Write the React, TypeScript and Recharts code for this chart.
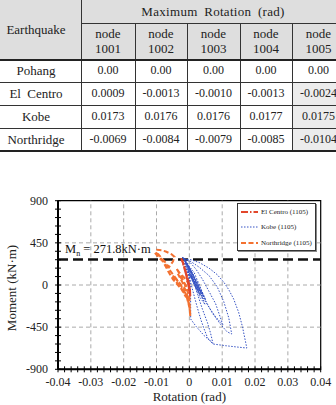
import React from 'react';
import { ComposedChart, Scatter, XAxis, YAxis, ReferenceLine, ReferenceArea } from 'recharts';

// ---------- Table data ----------
const earthquakes = ['Pohang', 'El Centro', 'Kobe', 'Northridge'];
const nodeNames = ['1001', '1002', '1003', '1004', '1005'];
const pohangRot = ['0.00', '0.00', '0.00', '0.00', '0.00'];
const elCentroRot = ['0.0009', '-0.0013', '-0.0010', '-0.0013', '-0.0024'];
const kobeMaxRot = ['0.0173', '0.0176', '0.0176', '0.0177', '0.0175'];
const northridgeRot = ['-0.0069', '-0.0084', '-0.0079', '-0.0085', '-0.0104'];
const tableRows = [pohangRot, elCentroRot, kobeMaxRot, northridgeRot];

// ---------- Chart data (rotation rad, moment kN·m) ----------
const kobeRot = [
  0, -0.0005, -0.0015, -0.0005, 0.001, 0.0025, 0.003, 0.0015, 0.0, -0.0018,
  -0.001, 0.001, 0.003, 0.0045, 0.004, 0.002, -0.0005, -0.002,
  0.0, 0.002, 0.004, 0.006, 0.008, 0.0102, 0.008, 0.006, 0.004, 0.002, 0.0, -0.0019,
  0.0005, 0.003, 0.006, 0.0085, 0.0105, 0.012, 0.0129, 0.0115, 0.0095, 0.007, 0.005, 0.003, 0.001, -0.002,
  0.0015, 0.0035, 0.005, 0.0035, 0.001, -0.0015,
  0.0, 0.003, 0.006, 0.0085, 0.0105, 0.012, 0.0135, 0.015, 0.0162, 0.0175,
  0.0145, 0.011, 0.0072, 0.0055, 0.0045, 0.0035, 0.0025, 0.0015, 0.0, -0.0015,
  -0.0005, 0.0003, 0.0004, 0.0004, 0.002, 0.0045, 0.0072, 0.0065, 0.0055, 0.004, 0.0025, 0.001, -0.001, -0.0022,
  0.0005, 0.0025, 0.004, 0.0025, 0.0005, 0.0015, 0.0035, 0.002, 0.0,
  0.001, 0.0028, 0.0042, 0.003, 0.0012, -0.0008, 0.0008, 0.0022, 0.0038, 0.0048,
  0.0032, 0.0018, 0.0002, -0.0012, 0.0006, 0.002, 0.0034, 0.0026, 0.001, 0.0,
];
const kobeMom = [
  0, 120, 240, 150, 40, -60, -90, 40, 170, 285,
  240, 120, 0, -130, -110, 40, 230, 295,
  250, 170, 60, -70, -200, -424, -340, -240, -120, 20, 180, 290,
  250, 190, 100, -20, -180, -350, -523, -500, -420, -300, -170, -30, 120, 290,
  130, -40, -160, -60, 110, 270,
  275, 240, 180, 110, 30, -50, -150, -290, -450, -673,
  -662, -648, -630, -560, -470, -370, -250, -120, 80, 260,
  200, 0, -200, -363, -440, -540, -625, -520, -400, -260, -100, 60, 250, 300,
  160, 0, -100, -20, 100, 30, -80, 0, 110,
  60, -50, -150, -90, 50, 230, 120, 10, -120, -210,
  -130, -20, 110, 250, 100, -10, -110, -60, 40, 120,
];

const northRot = [
  0, -0.001, -0.003, -0.004, -0.002, 0.0, 0.0003, 0.0001, -0.001, -0.003,
  -0.005, -0.0045, -0.0025, -0.001, -0.0025, -0.0045, -0.006, -0.0075, -0.009, -0.0103,
  -0.0098, -0.0085, -0.007, -0.0055, -0.0045, -0.005, -0.0062, -0.0075, -0.0095, -0.0105,
  -0.0095, -0.008, -0.0065, -0.005, -0.0035, -0.002, -0.0005, 0.0002, -0.0005, -0.002,
  -0.0035, -0.002, 0.0,
];
const northMom = [
  0, 60, 130, 180, 60, -120, -346, -250, -100, 20,
  100, 60, -40, -130, 0, 90, 160, 230, 300, 350,
  375, 372, 355, 330, 300, 250, 190, 250, 330, 345,
  300, 250, 150, 60, 0, -60, -150, -280, -120, 20,
  120, 50, -60,
];

const elcRot = [
  0, -0.0008, -0.0016, -0.0022, -0.0015, -0.0006, 0.0001, 0.0003, -0.0004, -0.0012,
  -0.002, -0.0025, -0.0017, -0.0008, 0.0, -0.0006, -0.0013, -0.0005, 0.0003, 0.0002,
];
const elcMom = [
  0, 110, 200, 270, 190, 70, -40, -120, 20, 140,
  240, 285, 200, 90, -10, 60, 150, 50, -130, -50,
];

const mnValue = 271.8;
const xMajor = [-0.04, -0.03, -0.02, -0.01, 0, 0.01, 0.02, 0.03, 0.04];
const yMajor = [-900, -450, 0, 450, 900];
const xTicksAll = Array.from({ length: 41 }, (_, i) => Math.round((-0.04 + i * 0.002) * 10000) / 10000);
const yTicksAll = Array.from({ length: 21 }, (_, i) => -900 + i * 90);

const zip = (r: number[], m: number[]) => r.map((x, i) => ({ x, y: m[i] }));
const kobe = zip(kobeRot, kobeMom);
const north = zip(northRot, northMom);
const elc = zip(elcRot, elcMom);

const SERIF = "'Liberation Serif', 'Times New Roman', serif";
const KOBE_C = '#3552c4';
const ELC_C = '#e2472b';
const NOR_C = '#f37130';

const isMajorX = (v: number) => xMajor.some((m) => Math.abs(m - v) < 1e-7);
const XTick = (props: any) => {
  const { x, y, payload } = props;
  const v = payload.value;
  const major = isMajorX(v);
  return (
    <g>
      <line x1={x} x2={x} y1={y - 3} y2={y + 3} stroke="#000" strokeWidth={1} />
      {major && (
        <text x={x} y={y + 17} textAnchor="middle" fontSize={12} fontFamily={SERIF} fill="#222">
          {v === 0 ? '0' : v.toFixed(2)}
        </text>
      )}
    </g>
  );
};
const YTick = (props: any) => {
  const { x, y, payload } = props;
  const v = payload.value;
  const major = yMajor.includes(v);
  return (
    <g>
      <line x1={x - 3} x2={x + 3} y1={y} y2={y} stroke="#000" strokeWidth={1} />
      {major && (
        <text x={x - 10} y={y + 4} textAnchor="end" fontSize={12} fontFamily={SERIF} fill="#222">
          {v}
        </text>
      )}
    </g>
  );
};

const MnLabel = (props: any) => {
  const vb = props.viewBox || {};
  return (
    <text x={vb.x + 7} y={vb.y - 7} fontSize={12.5} fontFamily={SERIF} fill="#111">
      <tspan>M</tspan>
      <tspan dy={3} fontSize={8}>n</tspan>
      <tspan dy={-3}>{' = ' + mnValue + 'kN·m'}</tspan>
    </text>
  );
};

const YTitle = (props: any) => {
  const vb = props.viewBox || {};
  const cy = vb.y + vb.height / 2 + 3;
  return (
    <text x={16} y={cy} transform={`rotate(-90, 16, ${cy})`} textAnchor="middle" fontSize={13} fontFamily={SERIF} fill="#222">
      Moment (kN·m)
    </text>
  );
};
const XTitle = (props: any) => {
  const vb = props.viewBox || {};
  return (
    <text x={vb.x + vb.width / 2} y={vb.y + 32} textAnchor="middle" fontSize={13} fontFamily={SERIF} fill="#222">
      Rotation (rad)
    </text>
  );
};

const NoShape = () => <g />;

const cols = [-9, 81, 135, 187, 240, 292, 345];
const rows = [0, 23, 59, 82, 105, 128, 151];

const Cell = ({ x1, x2, y1, y2, bg, children, style }: any) => (
  <div
    style={{
      position: 'absolute', left: x1, top: y1, width: x2 - x1, height: y2 - y1,
      background: bg, display: 'flex', flexDirection: 'column', alignItems: 'center', justifyContent: 'center',
      fontFamily: SERIF, fontSize: 13, color: '#222', lineHeight: '15px', textAlign: 'center', ...style,
    }}
  >
    {children}
  </div>
);

const HLine = ({ x1, x2, y, w = 1, c = '#333' }: any) => (
  <div style={{ position: 'absolute', left: x1, top: y, width: x2 - x1, height: w, background: c }} />
);
const VLine = ({ x, y1, y2, w = 1, c = '#333' }: any) => (
  <div style={{ position: 'absolute', left: x, top: y1, width: w, height: y2 - y1, background: c }} />
);

const Table = () => (
  <>
    <Cell x1={cols[0]} x2={cols[1]} y1={rows[0]} y2={rows[2]} bg="#dedede">Earthquake</Cell>
    <Cell x1={cols[1]} x2={cols[6]} y1={rows[0]} y2={rows[1]} bg="#dedede" style={{ wordSpacing: 3, letterSpacing: 0.3 }}>
      Maximum Rotation (rad)
    </Cell>
    {nodeNames.map((n, i) => (
      <Cell key={n} x1={cols[i + 1]} x2={cols[i + 2]} y1={rows[1]} y2={rows[2]} bg="#dedede">
        <span>node</span>
        <span>{n}</span>
      </Cell>
    ))}
    {earthquakes.map((eq, r) => (
      <React.Fragment key={eq}>
        <Cell x1={cols[0]} x2={cols[1]} y1={rows[r + 2]} y2={rows[r + 3]} bg="#fff" style={{ wordSpacing: 3 }}>
          {eq}
        </Cell>
        {tableRows[r].map((v, c) => (
          <Cell
            key={c}
            x1={cols[c + 1]}
            x2={cols[c + 2]}
            y1={rows[r + 2]}
            y2={rows[r + 3]}
            bg={c === 4 && r > 0 ? '#ececec' : '#fff'}
            style={{ fontSize: 12 }}
          >
            {v}
          </Cell>
        ))}
      </React.Fragment>
    ))}
    <VLine x={cols[1]} y1={0} y2={151} />
    {[2, 3, 4, 5].map((i) => (
      <VLine key={i} x={cols[i]} y1={rows[1]} y2={151} />
    ))}
    <HLine x1={cols[1]} x2={340} y={rows[1]} />
    <HLine x1={0} x2={340} y={rows[2]} w={1.5} c="#222" />
    <HLine x1={0} x2={340} y={rows[3]} />
    <HLine x1={0} x2={340} y={rows[4]} />
    <HLine x1={0} x2={340} y={rows[5]} />
    <HLine x1={0} x2={340} y={rows[6] - 1} w={2} c="#222" />
  </>
);

const LegendRow = ({ label, color, dash, width, top }: any) => (
  <div style={{ position: 'absolute', left: 2, top, height: 10, display: 'flex', alignItems: 'center' }}>
    <svg width={19} height={10} style={{ display: 'block' }}>
      <line x1={1} x2={18} y1={5} y2={5} stroke={color} strokeWidth={width} strokeDasharray={dash} />
    </svg>
    <span style={{ fontFamily: SERIF, fontSize: 7, color: '#222', marginLeft: 2, whiteSpace: 'nowrap' }}>{label}</span>
  </div>
);

export default function App() {
  return (
    <div style={{ position: 'absolute', left: 0, top: 0, width: 336, height: 405, overflow: 'hidden', background: '#fff' }}>
      <Table />
      <div style={{ position: 'absolute', left: 0, top: 170 }}>
        <ComposedChart width={336} height={235} margin={{ top: 30.7, right: 15.3, left: 0, bottom: 0 }}>
          <XAxis
            dataKey="x"
            type="number"
            domain={[-0.04, 0.04]}
            ticks={xTicksAll}
            interval={0}
            tickSize={0}
            tickMargin={0}
            tickLine={false}
            tick={<XTick />}
            axisLine={{ stroke: '#000', strokeWidth: 2 }}
            height={35.7}
            allowDataOverflow
            label={<XTitle />}
          />
          <YAxis
            dataKey="y"
            type="number"
            domain={[-900, 900]}
            ticks={yTicksAll}
            interval={0}
            tickSize={0}
            tickMargin={0}
            tickLine={false}
            tick={<YTick />}
            axisLine={{ stroke: '#000', strokeWidth: 2 }}
            width={58}
            allowDataOverflow
            label={<YTitle />}
          />
          {[-0.03, -0.02, -0.01, 0, 0.01, 0.02, 0.03].map((v) => (
            <ReferenceLine key={'gx' + v} x={v} stroke="#aaa" strokeDasharray="4 3" strokeWidth={1} />
          ))}
          {[450, 0, -450].map((v) => (
            <ReferenceLine key={'gy' + v} y={v} stroke="#aaa" strokeDasharray="4 3" strokeWidth={1} />
          ))}
          <ReferenceArea x1={-0.04} x2={0.04} y1={-900} y2={900} fill="none" fillOpacity={0} stroke="#000" strokeWidth={1.2} />
          <Scatter
            data={kobe}
            fill={KOBE_C}
            line={{ stroke: KOBE_C, strokeWidth: 1, strokeDasharray: '1.5 1.5' }}
            lineType="joint"
            shape={NoShape}
            isAnimationActive={false}
          />
          <Scatter
            data={north}
            fill={NOR_C}
            line={{ stroke: NOR_C, strokeWidth: 2, strokeDasharray: '5 2.5' }}
            lineType="joint"
            shape={NoShape}
            isAnimationActive={false}
          />
          <Scatter
            data={elc}
            fill={ELC_C}
            line={{ stroke: ELC_C, strokeWidth: 2, strokeDasharray: '7 2 1.5 2' }}
            lineType="joint"
            shape={NoShape}
            isAnimationActive={false}
          />
          <ReferenceLine y={mnValue} stroke="#111" strokeWidth={2.5} strokeDasharray="10 5" label={<MnLabel />} />
        </ComposedChart>
      </div>
      <div
        style={{
          position: 'absolute', left: 237, top: 203, width: 77, height: 46,
          border: '1px solid #333', background: '#fff', boxShadow: '1px 1px 0 #888',
        }}
      >
        <LegendRow label="El Centro (1105)" color={ELC_C} dash="7 2 1.5 2" width={2} top={3} />
        <LegendRow label="Kobe (1105)" color={KOBE_C} dash="1.5 1.5" width={1} top={18} />
        <LegendRow label="Northridge (1105)" color={NOR_C} dash="5 2.5" width={2} top={34} />
      </div>
    </div>
  );
}
